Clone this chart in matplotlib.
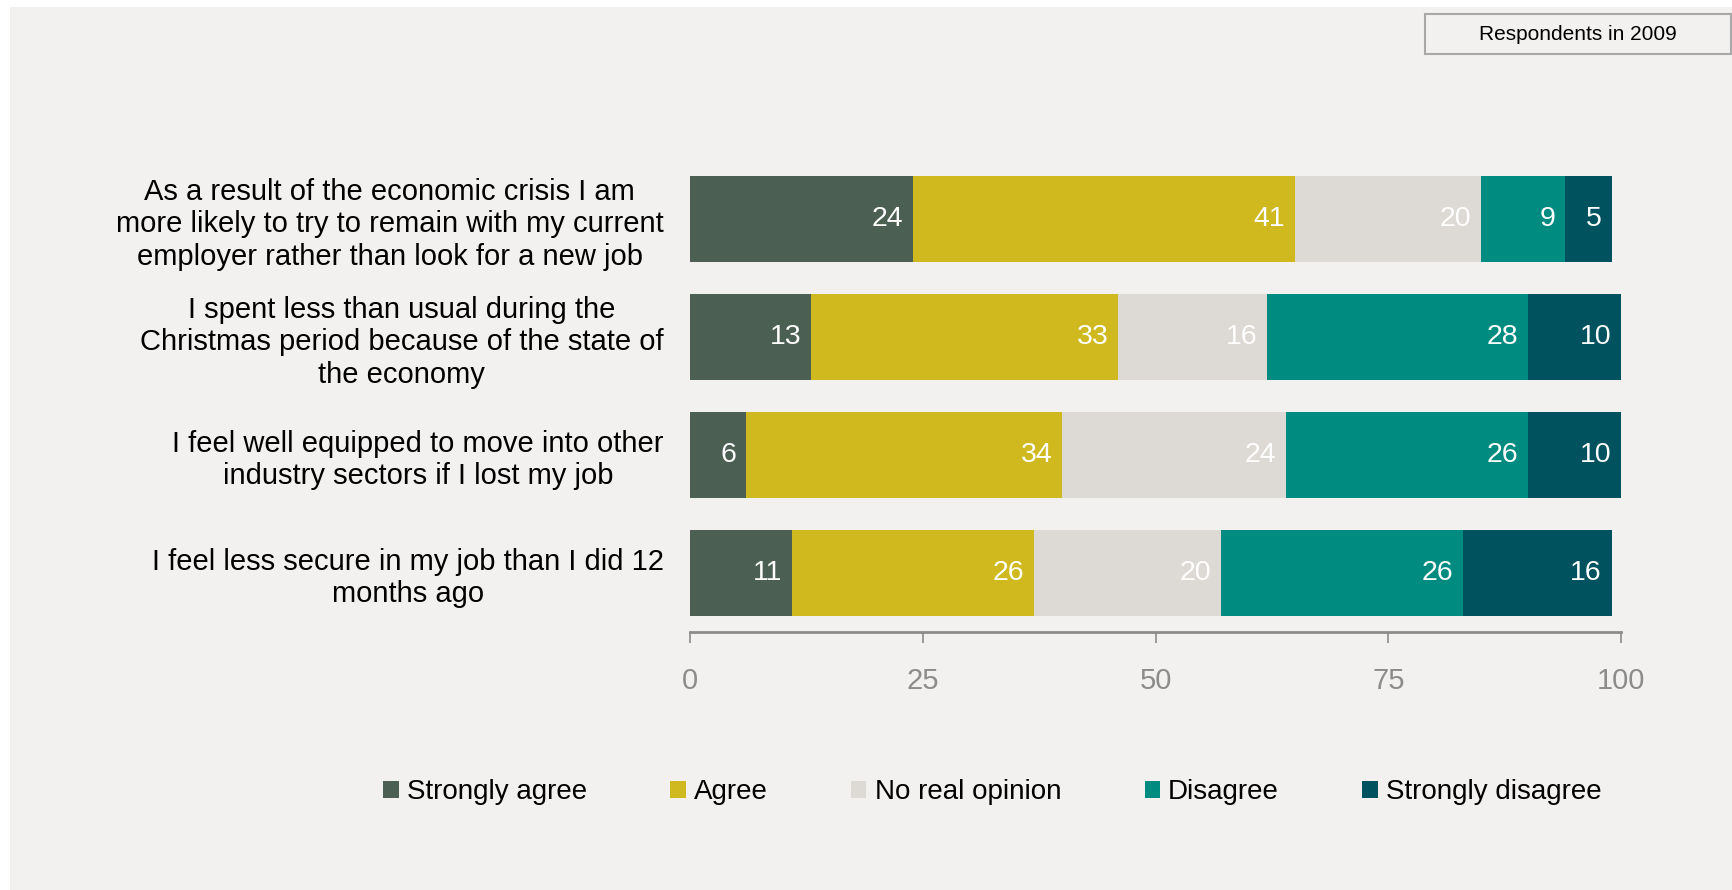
import matplotlib.pyplot as plt
from matplotlib.patches import Rectangle, Patch

plt.rcParams['font.family'] = ['Liberation Sans', 'DejaVu Sans']

# Survey statements (top to bottom) and share of answers per category
statements = [
    "As a result of the economic crisis I am\nmore likely to try to remain with my current\nemployer rather than look for a new job",
    "I spent less than usual during the\nChristmas period because of the state of\nthe economy",
    "I feel well equipped to move into other\nindustry sectors if I lost my job",
    "I feel less secure in my job than I did 12\nmonths ago",
]
answers = ["Strongly agree", "Agree", "No real opinion", "Disagree", "Strongly disagree"]
strongly_agree = [24, 13, 6, 11]
agree = [41, 33, 34, 26]
no_opinion = [20, 16, 24, 20]
disagree = [9, 28, 26, 26]
strongly_disagree = [5, 10, 10, 16]
colors = ["#4B5F53", "#D0B91E", "#DDD9D4", "#008B80", "#00525F"]

series = [strongly_agree, agree, no_opinion, disagree, strongly_disagree]
bg = "#F2F1EF"

fig = plt.figure(figsize=(17.32, 8.90), dpi=100)
fig.patch.set_facecolor("white")
W, H = 1732, 890

# grey panel behind everything
fig.add_artist(Rectangle((10 / W, 0), 1 - 10 / W, 1 - 7 / H,
                         transform=fig.transFigure, facecolor=bg,
                         edgecolor="none", zorder=-10))

ax = fig.add_axes([690 / W, 1 - 632 / H, 931 / W, 472 / H])
ax.set_facecolor("none")

ypos = [3, 2, 1, 0]
left = [0] * len(statements)
for vals, col in zip(series, colors):
    ax.barh(ypos, vals, left=left, height=0.73, color=col, edgecolor="none")
    for y, l, v in zip(ypos, left, vals):
        ax.annotate(str(v), (l + v, y), xytext=(-7, 0), textcoords="offset points",
                    ha="right", va="center", color="white", fontsize=20.5)
    left = [a + b for a, b in zip(left, vals)]

ax.set_xlim(0, 100)
ax.set_ylim(-0.5, 3.5)
ax.set_xticks([0, 25, 50, 75, 100])
ax.tick_params(axis="x", colors="#8C8C8C", labelsize=21, length=8, width=1.2, pad=17)
ax.set_yticks(ypos)
ax.set_yticklabels(statements, fontsize=21)
ax.tick_params(axis="y", length=0, pad=19)
for lab in ax.get_yticklabels():
    lab.set_multialignment("center")
    lab.set_linespacing(1.2)
for s in ["top", "right", "left"]:
    ax.spines[s].set_visible(False)
ax.spines["bottom"].set_color("#8C8C8C")
ax.spines["bottom"].set_linewidth(2)

handles = [Patch(facecolor=c, edgecolor="none") for c in colors]
fig.legend(handles, answers, loc="center", bbox_to_anchor=(0.573, 1 - 792 / H),
           ncol=5, frameon=False, fontsize=20, handlelength=0.55, handleheight=0.55,
           handletextpad=0.3, columnspacing=3.0)

# framed note in the top-right corner
fig.add_artist(Rectangle((1425 / W, 1 - 54 / H), 306 / W, 40 / H,
                         transform=fig.transFigure, facecolor=bg,
                         edgecolor="#A8A8A8", linewidth=1.5))
fig.text(1578 / W, 1 - 34 / H, "Respondents in 2009", ha="center", va="center",
         fontsize=15, color="black")

fig.savefig("out.png", dpi=100, facecolor=fig.get_facecolor())
